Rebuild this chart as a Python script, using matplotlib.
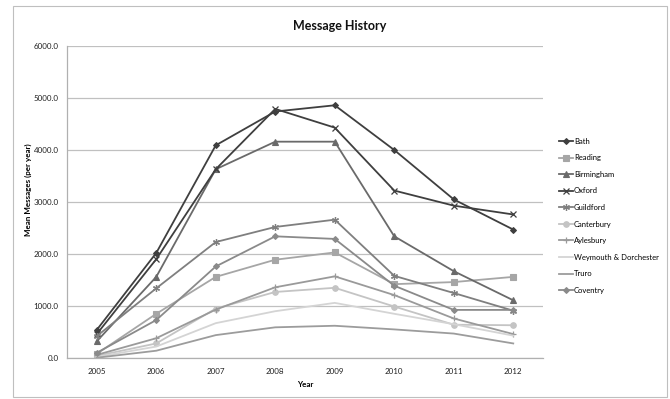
import matplotlib
matplotlib.use("Agg")
import matplotlib.pyplot as plt
from matplotlib.patches import Rectangle

years = [2005, 2006, 2007, 2008, 2009, 2010, 2011, 2012]

bath = [540, 2020, 4090, 4740, 4860, 4000, 3050, 2470]
reading = [80, 850, 1560, 1890, 2030, 1420, 1460, 1560]
birmingham = [320, 1560, 3630, 4160, 4160, 2340, 1670, 1110]
oxford = [460, 1900, 3630, 4790, 4430, 3220, 2930, 2760]
guildford = [420, 1340, 2230, 2520, 2660, 1580, 1250, 910]
canterbury = [40, 280, 950, 1270, 1350, 990, 640, 630]
aylesbury = [60, 380, 930, 1360, 1570, 1210, 760, 460]
weymouth = [20, 220, 670, 900, 1060, 850, 650, 430]
truro = [5, 140, 440, 590, 620, 550, 470, 280]
coventry = [100, 730, 1760, 2340, 2290, 1390, 925, 925]

series_names = ["Bath", "Reading", "Birmingham", "Oxford", "Guildford",
                "Canterbury", "Aylesbury", "Weymouth & Dorchester", "Truro", "Coventry"]
series_values = [bath, reading, birmingham, oxford, guildford,
                 canterbury, aylesbury, weymouth, truro, coventry]
y_ticks = [0, 1000, 2000, 3000, 4000, 5000, 6000]

styles = [
    dict(color="#3f3f3f", marker="D", ms=3.0),
    dict(color="#a6a6a6", marker="s", ms=3.8),
    dict(color="#6a6a6a", marker="^", ms=4.0),
    dict(color="#3f3f3f", marker="x", ms=4.2, mew=0.9),
    dict(color="#7f7f7f", marker=(6, 2, 0), ms=5.0, mew=0.9),
    dict(color="#c4c4c4", marker="o", ms=4.0),
    dict(color="#9a9a9a", marker="+", ms=5.0, mew=0.9),
    dict(color="#d4d4d4", marker=None),
    dict(color="#9c9c9c", marker=None),
    dict(color="#8a8a8a", marker="D", ms=3.0),
]

font = ["Lato", "DejaVu Sans"]
plt.rcParams["font.family"] = font

fig = plt.figure(figsize=(6.7, 3.99), dpi=100)
fig.patches.append(Rectangle((13 / 670, 2 / 399), 654 / 670, 391 / 399,
                             transform=fig.transFigure, fill=False,
                             edgecolor="#bfbfbf", linewidth=0.8))

ax = fig.add_axes([67 / 670, 1 - 358 / 399, (543 - 67) / 670, (358 - 46) / 399])

for name, vals, st in zip(series_names, series_values, styles):
    kw = dict(color=st["color"], linewidth=1.3, label=name)
    if st["marker"] is not None:
        kw.update(marker=st["marker"], markersize=st["ms"],
                  markeredgecolor=st["color"], markerfacecolor=st["color"],
                  markeredgewidth=st.get("mew", 0.8))
    ax.plot(years, vals, **kw)

ax.set_xlim(2004.5, 2012.5)
ax.set_ylim(0, 6000)
ax.set_yticks(y_ticks)
ax.set_yticklabels([f"{v:.1f}" for v in y_ticks])
ax.set_xticks(years)
ax.set_xticklabels([str(y) for y in years])
ax.tick_params(axis="both", labelsize=5.8, colors="#222222", length=0)
ax.tick_params(axis="y", pad=6)
ax.tick_params(axis="x", pad=7)
ax.yaxis.grid(True, color="#c0c0c0", linewidth=0.9)
ax.set_axisbelow(True)
for side in ["top", "right"]:
    ax.spines[side].set_visible(False)
for side in ["left", "bottom"]:
    ax.spines[side].set_color("#b0b0b0")
    ax.spines[side].set_linewidth(0.9)

ax.set_xlabel("Year", fontsize=5.8, fontweight="bold")
ax.xaxis.set_label_coords(0.5, -0.075)
ax.set_ylabel("Mean Messages (per year)", fontsize=5.8, fontweight="bold")
ax.yaxis.set_label_coords(-0.074, 0.54)

fig.text(340 / 670, 1 - 26 / 399, "Message History", fontsize=9, fontweight="bold",
         ha="center", va="center", color="#111111")

leg = ax.legend(loc="upper left", bbox_to_anchor=(555 / 670, 1 - 134 / 399),
                bbox_transform=fig.transFigure, frameon=False, fontsize=5.5,
                handlelength=1.8, handletextpad=0.2, labelspacing=1.25,
                borderpad=0)

fig.savefig("out.png", dpi=100)
